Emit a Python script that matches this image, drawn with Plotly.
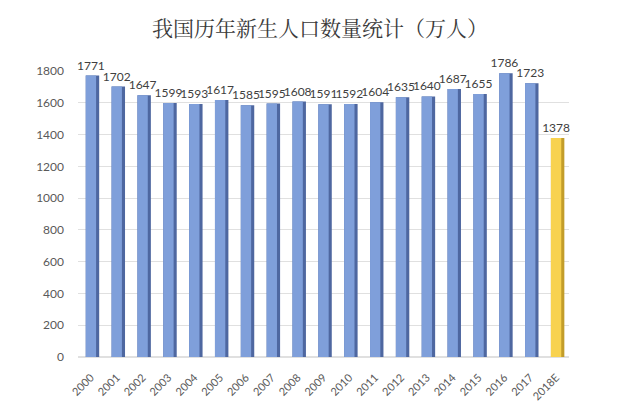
import plotly.graph_objects as go

years = ["2000", "2001", "2002", "2003", "2004", "2005", "2006", "2007", "2008", "2009",
         "2010", "2011", "2012", "2013", "2014", "2015", "2016", "2017", "2018E"]
births = [1771, 1702, 1647, 1599, 1593, 1617, 1585, 1595, 1608, 1591,
          1592, 1604, 1635, 1640, 1687, 1655, 1786, 1723, 1378]
y_ticks = [0, 200, 400, 600, 800, 1000, 1200, 1400, 1600, 1800]

front_colors = ["#7f9fda"] * (len(years) - 1) + ["#f8d24f"]
side_colors = ["#4e67a0"] * (len(years) - 1) + ["#c39d2a"]

fig = go.Figure()
# side (depth) face
fig.add_trace(go.Bar(
    x=years, y=births, width=0.52, offset=-0.2,
    marker=dict(color=side_colors, line=dict(width=0)),
    hoverinfo="skip", showlegend=False,
))
# front face
fig.add_trace(go.Bar(
    x=years, y=births, width=0.40, offset=-0.2,
    marker=dict(color=front_colors, line=dict(width=0)),
    text=[str(v) for v in births], textposition="outside",
    constraintext="none",
    textfont=dict(family="Lato, Open Sans, sans-serif", size=12, color="#404040"),
    cliponaxis=False, showlegend=False,
))

fig.update_layout(
    width=640, height=408,
    margin=dict(l=78, r=71, t=71, b=51),
    paper_bgcolor="white", plot_bgcolor="white",
    barmode="overlay",
    title=dict(
        text="我国历年新生人口数量统计（万人）",
        x=0.5, xanchor="center", y=1 - 29 / 408, yanchor="middle",
        font=dict(family="Noto Serif CJK SC, Noto Sans CJK SC, sans-serif", size=21, color="#3a3a3a"),
    ),
    xaxis=dict(
        type="category", range=[-0.5, 18.5], automargin=False,
        tickangle=-45, showgrid=False, showline=False, zeroline=False,
        tickfont=dict(family="Lato, Open Sans, sans-serif", size=11, color="#595959"),
        ticks="", ticklabelstandoff=11,
    ),
    yaxis=dict(
        range=[0, 1800], tickvals=y_ticks, automargin=False,
        showgrid=True, gridcolor="#e0e0e0", gridwidth=1,
        zeroline=True, zerolinecolor="#e0e0e0", showline=False,
        tickfont=dict(family="Lato, Open Sans, sans-serif", size=12, color="#595959"),
        ticks="", ticklabelstandoff=13,
    ),
)

fig.write_html("out.html")
